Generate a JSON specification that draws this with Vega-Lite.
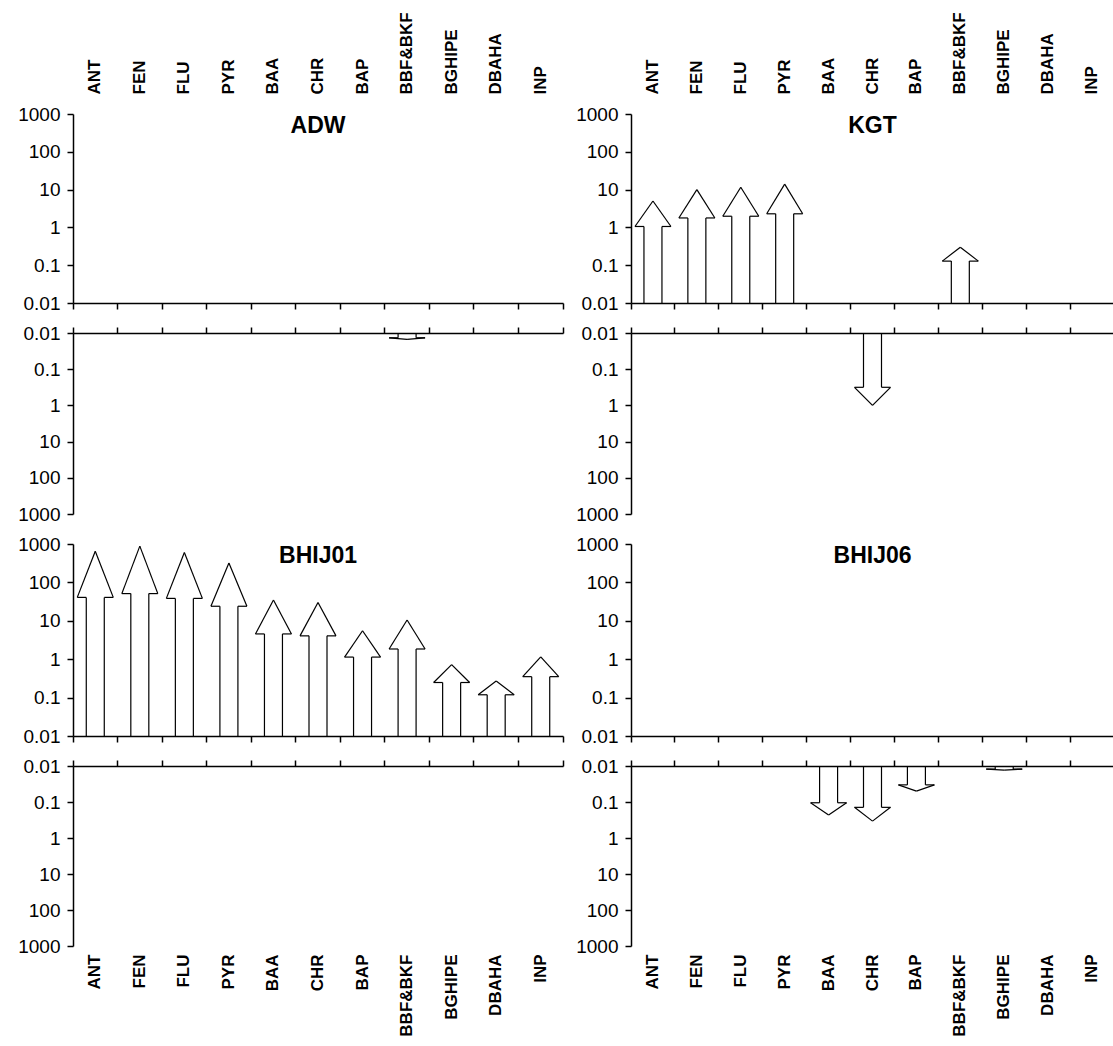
{
  "$schema": "https://vega.github.io/schema/vega-lite/v6.json",
  "description": "Block arrows per PAH compound and site on paired log axes (increase above, decrease below).",
  "background": "white",
  "padding": {"left": 17, "top": 11, "right": 0, "bottom": 0},
  "data": {
    "values": [
      {"site": "ADW", "pah": "BBF&BKF", "side": "down", "value": 0.015},
      {"site": "KGT", "pah": "ANT", "side": "up", "value": 5},
      {"site": "KGT", "pah": "FEN", "side": "up", "value": 10},
      {"site": "KGT", "pah": "FLU", "side": "up", "value": 11.5},
      {"site": "KGT", "pah": "PYR", "side": "up", "value": 14},
      {"site": "KGT", "pah": "BBF&BKF", "side": "up", "value": 0.3},
      {"site": "KGT", "pah": "CHR", "side": "down", "value": 1},
      {"site": "BHIJ01", "pah": "ANT", "side": "up", "value": 650},
      {"site": "BHIJ01", "pah": "FEN", "side": "up", "value": 880},
      {"site": "BHIJ01", "pah": "FLU", "side": "up", "value": 600},
      {"site": "BHIJ01", "pah": "PYR", "side": "up", "value": 320},
      {"site": "BHIJ01", "pah": "BAA", "side": "up", "value": 35},
      {"site": "BHIJ01", "pah": "CHR", "side": "up", "value": 30},
      {"site": "BHIJ01", "pah": "BAP", "side": "up", "value": 5.5},
      {"site": "BHIJ01", "pah": "BBF&BKF", "side": "up", "value": 10.5},
      {"site": "BHIJ01", "pah": "BGHIPE", "side": "up", "value": 0.72},
      {"site": "BHIJ01", "pah": "DBAHA", "side": "up", "value": 0.27},
      {"site": "BHIJ01", "pah": "INP", "side": "up", "value": 1.15},
      {"site": "BHIJ06", "pah": "BAA", "side": "down", "value": 0.23},
      {"site": "BHIJ06", "pah": "CHR", "side": "down", "value": 0.34},
      {"site": "BHIJ06", "pah": "BAP", "side": "down", "value": 0.05},
      {"site": "BHIJ06", "pah": "BGHIPE", "side": "down", "value": 0.013}
    ]
  },
  "columns": 2,
  "spacing": {"row": 30, "column": 68},
  "bounds": "flush",
  "concat": [
    {
      "width": 490, "height": 189,
      "title": {"text": "ADW", "frame": "group", "anchor": "middle", "offset": -126, "fontSize": 23, "fontWeight": "bold"},
      "transform": [
        {"filter": "datum.site === 'ADW' && datum.side === 'up'"},
        {"calculate": "0.316228 * pow(datum.value, 0.75)", "as": "neck"},
        {"calculate": "0.01", "as": "floor"}
      ],
      "encoding": {"x": {"field": "pah", "type": "nominal", "scale": {"type": "band", "domain": ["ANT","FEN","FLU","PYR","BAA","CHR","BAP","BBF&BKF","BGHIPE","DBAHA","INP"], "paddingInner": 0, "paddingOuter": 0}, "axis": null}},
      "resolve": {"axis": {"x": "independent", "y": "independent"}},
      "layer": [
        {"mark": {"type": "rule", "xOffset": -9}, "encoding": {
          "x": {"field": "pah", "type": "nominal", "scale": {"type": "band", "domain": ["ANT","FEN","FLU","PYR","BAA","CHR","BAP","BBF&BKF","BGHIPE","DBAHA","INP"], "paddingInner": 0, "paddingOuter": 0}, "axis": {"orient": "bottom", "labels": false, "title": null, "bandPosition": 1, "tickExtra": true, "tickSize": 6}},
          "y": {"field": "floor", "type": "quantitative", "scale": {"type": "log", "domain": [0.01, 1000], "nice": false}, "axis": {"values": [0.01, 0.1, 1, 10, 100, 1000], "format": "~g", "title": null, "tickSize": 6, "labelPadding": 7, "labelFontSize": 19}},
          "y2": {"field": "neck"}}},
        {"mark": {"type": "rule", "xOffset": 9}, "encoding": {
          "x": {"field": "pah", "type": "nominal", "scale": {"type": "band", "domain": ["ANT","FEN","FLU","PYR","BAA","CHR","BAP","BBF&BKF","BGHIPE","DBAHA","INP"], "paddingInner": 0, "paddingOuter": 0}, "axis": {"orient": "top", "domain": false, "ticks": false, "title": null, "labelAngle": -90, "labelAlign": "left", "labelBaseline": "middle", "labelPadding": 20, "labelFontSize": 17, "labelFontWeight": "bold", "labelOverlap": false}},
          "y": {"field": "floor", "type": "quantitative", "scale": {"type": "log", "domain": [0.01, 1000], "nice": false}, "axis": null},
          "y2": {"field": "neck"}}},
        {"mark": {"type": "rule", "xOffset": -18, "x2Offset": -9}, "encoding": {"x2": {"field": "pah"}, "y": {"field": "neck", "type": "quantitative", "scale": {"type": "log", "domain": [0.01, 1000], "nice": false}, "axis": null}}},
        {"mark": {"type": "rule", "xOffset": 9, "x2Offset": 18}, "encoding": {"x2": {"field": "pah"}, "y": {"field": "neck", "type": "quantitative", "scale": {"type": "log", "domain": [0.01, 1000], "nice": false}, "axis": null}}},
        {"mark": {"type": "rule", "xOffset": -18}, "encoding": {"x2": {"field": "pah"}, "y": {"field": "neck", "type": "quantitative", "scale": {"type": "log", "domain": [0.01, 1000], "nice": false}, "axis": null}, "y2": {"field": "value"}}},
        {"mark": {"type": "rule", "xOffset": 18}, "encoding": {"x2": {"field": "pah"}, "y": {"field": "neck", "type": "quantitative", "scale": {"type": "log", "domain": [0.01, 1000], "nice": false}, "axis": null}, "y2": {"field": "value"}}}
      ]
    },
    {
      "width": 483, "height": 189,
      "title": {"text": "KGT", "frame": "group", "anchor": "middle", "offset": -126, "fontSize": 23, "fontWeight": "bold"},
      "transform": [
        {"filter": "datum.site === 'KGT' && datum.side === 'up'"},
        {"calculate": "0.316228 * pow(datum.value, 0.75)", "as": "neck"},
        {"calculate": "0.01", "as": "floor"}
      ],
      "encoding": {"x": {"field": "pah", "type": "nominal", "scale": {"type": "band", "domain": ["ANT","FEN","FLU","PYR","BAA","CHR","BAP","BBF&BKF","BGHIPE","DBAHA","INP"], "paddingInner": 0, "paddingOuter": 0}, "axis": null}},
      "resolve": {"axis": {"x": "independent", "y": "independent"}},
      "layer": [
        {"mark": {"type": "rule", "xOffset": -9}, "encoding": {
          "x": {"field": "pah", "type": "nominal", "scale": {"type": "band", "domain": ["ANT","FEN","FLU","PYR","BAA","CHR","BAP","BBF&BKF","BGHIPE","DBAHA","INP"], "paddingInner": 0, "paddingOuter": 0}, "axis": {"orient": "bottom", "labels": false, "title": null, "bandPosition": 1, "tickExtra": true, "tickSize": 6}},
          "y": {"field": "floor", "type": "quantitative", "scale": {"type": "log", "domain": [0.01, 1000], "nice": false}, "axis": {"values": [0.01, 0.1, 1, 10, 100, 1000], "format": "~g", "title": null, "tickSize": 6, "labelPadding": 7, "labelFontSize": 19}},
          "y2": {"field": "neck"}}},
        {"mark": {"type": "rule", "xOffset": 9}, "encoding": {
          "x": {"field": "pah", "type": "nominal", "scale": {"type": "band", "domain": ["ANT","FEN","FLU","PYR","BAA","CHR","BAP","BBF&BKF","BGHIPE","DBAHA","INP"], "paddingInner": 0, "paddingOuter": 0}, "axis": {"orient": "top", "domain": false, "ticks": false, "title": null, "labelAngle": -90, "labelAlign": "left", "labelBaseline": "middle", "labelPadding": 20, "labelFontSize": 17, "labelFontWeight": "bold", "labelOverlap": false}},
          "y": {"field": "floor", "type": "quantitative", "scale": {"type": "log", "domain": [0.01, 1000], "nice": false}, "axis": null},
          "y2": {"field": "neck"}}},
        {"mark": {"type": "rule", "xOffset": -18, "x2Offset": -9}, "encoding": {"x2": {"field": "pah"}, "y": {"field": "neck", "type": "quantitative", "scale": {"type": "log", "domain": [0.01, 1000], "nice": false}, "axis": null}}},
        {"mark": {"type": "rule", "xOffset": 9, "x2Offset": 18}, "encoding": {"x2": {"field": "pah"}, "y": {"field": "neck", "type": "quantitative", "scale": {"type": "log", "domain": [0.01, 1000], "nice": false}, "axis": null}}},
        {"mark": {"type": "rule", "xOffset": -18}, "encoding": {"x2": {"field": "pah"}, "y": {"field": "neck", "type": "quantitative", "scale": {"type": "log", "domain": [0.01, 1000], "nice": false}, "axis": null}, "y2": {"field": "value"}}},
        {"mark": {"type": "rule", "xOffset": 18}, "encoding": {"x2": {"field": "pah"}, "y": {"field": "neck", "type": "quantitative", "scale": {"type": "log", "domain": [0.01, 1000], "nice": false}, "axis": null}, "y2": {"field": "value"}}}
      ]
    },
    {
      "width": 490, "height": 181,
      "transform": [
        {"filter": "datum.site === 'ADW' && datum.side === 'down'"},
        {"calculate": "0.316228 * pow(datum.value, 0.75)", "as": "neck"},
        {"calculate": "0.01", "as": "floor"}
      ],
      "encoding": {"x": {"field": "pah", "type": "nominal", "scale": {"type": "band", "domain": ["ANT","FEN","FLU","PYR","BAA","CHR","BAP","BBF&BKF","BGHIPE","DBAHA","INP"], "paddingInner": 0, "paddingOuter": 0}, "axis": null}},
      "resolve": {"axis": {"x": "independent", "y": "independent"}},
      "layer": [
        {"mark": {"type": "rule", "xOffset": -9}, "encoding": {
          "x": {"field": "pah", "type": "nominal", "scale": {"type": "band", "domain": ["ANT","FEN","FLU","PYR","BAA","CHR","BAP","BBF&BKF","BGHIPE","DBAHA","INP"], "paddingInner": 0, "paddingOuter": 0}, "axis": {"orient": "top", "labels": false, "title": null, "bandPosition": 1, "tickExtra": true, "tickSize": 6}},
          "y": {"field": "floor", "type": "quantitative", "scale": {"type": "log", "domain": [0.01, 1000], "nice": false, "reverse": true}, "axis": {"values": [0.01, 0.1, 1, 10, 100, 1000], "format": "~g", "title": null, "tickSize": 6, "labelPadding": 7, "labelFontSize": 19}},
          "y2": {"field": "neck"}}},
        {"mark": {"type": "rule", "xOffset": 9}, "encoding": {"y": {"field": "floor", "type": "quantitative", "scale": {"type": "log", "domain": [0.01, 1000], "nice": false, "reverse": true}, "axis": null}, "y2": {"field": "neck"}}},
        {"mark": {"type": "rule", "xOffset": -18, "x2Offset": -9}, "encoding": {"x2": {"field": "pah"}, "y": {"field": "neck", "type": "quantitative", "scale": {"type": "log", "domain": [0.01, 1000], "nice": false, "reverse": true}, "axis": null}}},
        {"mark": {"type": "rule", "xOffset": 9, "x2Offset": 18}, "encoding": {"x2": {"field": "pah"}, "y": {"field": "neck", "type": "quantitative", "scale": {"type": "log", "domain": [0.01, 1000], "nice": false, "reverse": true}, "axis": null}}},
        {"mark": {"type": "rule", "xOffset": -18}, "encoding": {"x2": {"field": "pah"}, "y": {"field": "neck", "type": "quantitative", "scale": {"type": "log", "domain": [0.01, 1000], "nice": false, "reverse": true}, "axis": null}, "y2": {"field": "value"}}},
        {"mark": {"type": "rule", "xOffset": 18}, "encoding": {"x2": {"field": "pah"}, "y": {"field": "neck", "type": "quantitative", "scale": {"type": "log", "domain": [0.01, 1000], "nice": false, "reverse": true}, "axis": null}, "y2": {"field": "value"}}}
      ]
    },
    {
      "width": 483, "height": 181,
      "transform": [
        {"filter": "datum.site === 'KGT' && datum.side === 'down'"},
        {"calculate": "0.316228 * pow(datum.value, 0.75)", "as": "neck"},
        {"calculate": "0.01", "as": "floor"}
      ],
      "encoding": {"x": {"field": "pah", "type": "nominal", "scale": {"type": "band", "domain": ["ANT","FEN","FLU","PYR","BAA","CHR","BAP","BBF&BKF","BGHIPE","DBAHA","INP"], "paddingInner": 0, "paddingOuter": 0}, "axis": null}},
      "resolve": {"axis": {"x": "independent", "y": "independent"}},
      "layer": [
        {"mark": {"type": "rule", "xOffset": -9}, "encoding": {
          "x": {"field": "pah", "type": "nominal", "scale": {"type": "band", "domain": ["ANT","FEN","FLU","PYR","BAA","CHR","BAP","BBF&BKF","BGHIPE","DBAHA","INP"], "paddingInner": 0, "paddingOuter": 0}, "axis": {"orient": "top", "labels": false, "title": null, "bandPosition": 1, "tickExtra": true, "tickSize": 6}},
          "y": {"field": "floor", "type": "quantitative", "scale": {"type": "log", "domain": [0.01, 1000], "nice": false, "reverse": true}, "axis": {"values": [0.01, 0.1, 1, 10, 100, 1000], "format": "~g", "title": null, "tickSize": 6, "labelPadding": 7, "labelFontSize": 19}},
          "y2": {"field": "neck"}}},
        {"mark": {"type": "rule", "xOffset": 9}, "encoding": {"y": {"field": "floor", "type": "quantitative", "scale": {"type": "log", "domain": [0.01, 1000], "nice": false, "reverse": true}, "axis": null}, "y2": {"field": "neck"}}},
        {"mark": {"type": "rule", "xOffset": -18, "x2Offset": -9}, "encoding": {"x2": {"field": "pah"}, "y": {"field": "neck", "type": "quantitative", "scale": {"type": "log", "domain": [0.01, 1000], "nice": false, "reverse": true}, "axis": null}}},
        {"mark": {"type": "rule", "xOffset": 9, "x2Offset": 18}, "encoding": {"x2": {"field": "pah"}, "y": {"field": "neck", "type": "quantitative", "scale": {"type": "log", "domain": [0.01, 1000], "nice": false, "reverse": true}, "axis": null}}},
        {"mark": {"type": "rule", "xOffset": -18}, "encoding": {"x2": {"field": "pah"}, "y": {"field": "neck", "type": "quantitative", "scale": {"type": "log", "domain": [0.01, 1000], "nice": false, "reverse": true}, "axis": null}, "y2": {"field": "value"}}},
        {"mark": {"type": "rule", "xOffset": 18}, "encoding": {"x2": {"field": "pah"}, "y": {"field": "neck", "type": "quantitative", "scale": {"type": "log", "domain": [0.01, 1000], "nice": false, "reverse": true}, "axis": null}, "y2": {"field": "value"}}}
      ]
    },
    {
      "width": 490, "height": 192,
      "title": {"text": "BHIJ01", "frame": "group", "anchor": "middle", "offset": -33, "fontSize": 23, "fontWeight": "bold"},
      "transform": [
        {"filter": "datum.site === 'BHIJ01' && datum.side === 'up'"},
        {"calculate": "0.316228 * pow(datum.value, 0.75)", "as": "neck"},
        {"calculate": "0.01", "as": "floor"}
      ],
      "encoding": {"x": {"field": "pah", "type": "nominal", "scale": {"type": "band", "domain": ["ANT","FEN","FLU","PYR","BAA","CHR","BAP","BBF&BKF","BGHIPE","DBAHA","INP"], "paddingInner": 0, "paddingOuter": 0}, "axis": null}},
      "resolve": {"axis": {"x": "independent", "y": "independent"}},
      "layer": [
        {"mark": {"type": "rule", "xOffset": -9}, "encoding": {
          "x": {"field": "pah", "type": "nominal", "scale": {"type": "band", "domain": ["ANT","FEN","FLU","PYR","BAA","CHR","BAP","BBF&BKF","BGHIPE","DBAHA","INP"], "paddingInner": 0, "paddingOuter": 0}, "axis": {"orient": "bottom", "labels": false, "title": null, "bandPosition": 1, "tickExtra": true, "tickSize": 6}},
          "y": {"field": "floor", "type": "quantitative", "scale": {"type": "log", "domain": [0.01, 1000], "nice": false}, "axis": {"values": [0.01, 0.1, 1, 10, 100, 1000], "format": "~g", "title": null, "tickSize": 6, "labelPadding": 7, "labelFontSize": 19}},
          "y2": {"field": "neck"}}},
        {"mark": {"type": "rule", "xOffset": 9}, "encoding": {"y": {"field": "floor", "type": "quantitative", "scale": {"type": "log", "domain": [0.01, 1000], "nice": false}, "axis": null}, "y2": {"field": "neck"}}},
        {"mark": {"type": "rule", "xOffset": -18, "x2Offset": -9}, "encoding": {"x2": {"field": "pah"}, "y": {"field": "neck", "type": "quantitative", "scale": {"type": "log", "domain": [0.01, 1000], "nice": false}, "axis": null}}},
        {"mark": {"type": "rule", "xOffset": 9, "x2Offset": 18}, "encoding": {"x2": {"field": "pah"}, "y": {"field": "neck", "type": "quantitative", "scale": {"type": "log", "domain": [0.01, 1000], "nice": false}, "axis": null}}},
        {"mark": {"type": "rule", "xOffset": -18}, "encoding": {"x2": {"field": "pah"}, "y": {"field": "neck", "type": "quantitative", "scale": {"type": "log", "domain": [0.01, 1000], "nice": false}, "axis": null}, "y2": {"field": "value"}}},
        {"mark": {"type": "rule", "xOffset": 18}, "encoding": {"x2": {"field": "pah"}, "y": {"field": "neck", "type": "quantitative", "scale": {"type": "log", "domain": [0.01, 1000], "nice": false}, "axis": null}, "y2": {"field": "value"}}}
      ]
    },
    {
      "width": 483, "height": 192,
      "title": {"text": "BHIJ06", "frame": "group", "anchor": "middle", "offset": -33, "fontSize": 23, "fontWeight": "bold"},
      "transform": [
        {"filter": "datum.site === 'BHIJ06' && datum.side === 'up'"},
        {"calculate": "0.316228 * pow(datum.value, 0.75)", "as": "neck"},
        {"calculate": "0.01", "as": "floor"}
      ],
      "encoding": {"x": {"field": "pah", "type": "nominal", "scale": {"type": "band", "domain": ["ANT","FEN","FLU","PYR","BAA","CHR","BAP","BBF&BKF","BGHIPE","DBAHA","INP"], "paddingInner": 0, "paddingOuter": 0}, "axis": null}},
      "resolve": {"axis": {"x": "independent", "y": "independent"}},
      "layer": [
        {"mark": {"type": "rule", "xOffset": -9}, "encoding": {
          "x": {"field": "pah", "type": "nominal", "scale": {"type": "band", "domain": ["ANT","FEN","FLU","PYR","BAA","CHR","BAP","BBF&BKF","BGHIPE","DBAHA","INP"], "paddingInner": 0, "paddingOuter": 0}, "axis": {"orient": "bottom", "labels": false, "title": null, "bandPosition": 1, "tickExtra": true, "tickSize": 6}},
          "y": {"field": "floor", "type": "quantitative", "scale": {"type": "log", "domain": [0.01, 1000], "nice": false}, "axis": {"values": [0.01, 0.1, 1, 10, 100, 1000], "format": "~g", "title": null, "tickSize": 6, "labelPadding": 7, "labelFontSize": 19}},
          "y2": {"field": "neck"}}},
        {"mark": {"type": "rule", "xOffset": 9}, "encoding": {"y": {"field": "floor", "type": "quantitative", "scale": {"type": "log", "domain": [0.01, 1000], "nice": false}, "axis": null}, "y2": {"field": "neck"}}},
        {"mark": {"type": "rule", "xOffset": -18, "x2Offset": -9}, "encoding": {"x2": {"field": "pah"}, "y": {"field": "neck", "type": "quantitative", "scale": {"type": "log", "domain": [0.01, 1000], "nice": false}, "axis": null}}},
        {"mark": {"type": "rule", "xOffset": 9, "x2Offset": 18}, "encoding": {"x2": {"field": "pah"}, "y": {"field": "neck", "type": "quantitative", "scale": {"type": "log", "domain": [0.01, 1000], "nice": false}, "axis": null}}},
        {"mark": {"type": "rule", "xOffset": -18}, "encoding": {"x2": {"field": "pah"}, "y": {"field": "neck", "type": "quantitative", "scale": {"type": "log", "domain": [0.01, 1000], "nice": false}, "axis": null}, "y2": {"field": "value"}}},
        {"mark": {"type": "rule", "xOffset": 18}, "encoding": {"x2": {"field": "pah"}, "y": {"field": "neck", "type": "quantitative", "scale": {"type": "log", "domain": [0.01, 1000], "nice": false}, "axis": null}, "y2": {"field": "value"}}}
      ]
    },
    {
      "width": 490, "height": 180,
      "transform": [
        {"filter": "datum.site === 'BHIJ01' && datum.side === 'down'"},
        {"calculate": "0.316228 * pow(datum.value, 0.75)", "as": "neck"},
        {"calculate": "0.01", "as": "floor"}
      ],
      "encoding": {"x": {"field": "pah", "type": "nominal", "scale": {"type": "band", "domain": ["ANT","FEN","FLU","PYR","BAA","CHR","BAP","BBF&BKF","BGHIPE","DBAHA","INP"], "paddingInner": 0, "paddingOuter": 0}, "axis": null}},
      "resolve": {"axis": {"x": "independent", "y": "independent"}},
      "layer": [
        {"mark": {"type": "rule", "xOffset": -9}, "encoding": {
          "x": {"field": "pah", "type": "nominal", "scale": {"type": "band", "domain": ["ANT","FEN","FLU","PYR","BAA","CHR","BAP","BBF&BKF","BGHIPE","DBAHA","INP"], "paddingInner": 0, "paddingOuter": 0}, "axis": {"orient": "top", "labels": false, "title": null, "bandPosition": 1, "tickExtra": true, "tickSize": 6}},
          "y": {"field": "floor", "type": "quantitative", "scale": {"type": "log", "domain": [0.01, 1000], "nice": false, "reverse": true}, "axis": {"values": [0.01, 0.1, 1, 10, 100, 1000], "format": "~g", "title": null, "tickSize": 6, "labelPadding": 7, "labelFontSize": 19}},
          "y2": {"field": "neck"}}},
        {"mark": {"type": "rule", "xOffset": 9}, "encoding": {
          "x": {"field": "pah", "type": "nominal", "scale": {"type": "band", "domain": ["ANT","FEN","FLU","PYR","BAA","CHR","BAP","BBF&BKF","BGHIPE","DBAHA","INP"], "paddingInner": 0, "paddingOuter": 0}, "axis": {"orient": "bottom", "domain": false, "ticks": false, "title": null, "labelAngle": -90, "labelAlign": "right", "labelBaseline": "middle", "labelPadding": 8, "labelFontSize": 17, "labelFontWeight": "bold", "labelOverlap": false}},
          "y": {"field": "floor", "type": "quantitative", "scale": {"type": "log", "domain": [0.01, 1000], "nice": false, "reverse": true}, "axis": null},
          "y2": {"field": "neck"}}},
        {"mark": {"type": "rule", "xOffset": -18, "x2Offset": -9}, "encoding": {"x2": {"field": "pah"}, "y": {"field": "neck", "type": "quantitative", "scale": {"type": "log", "domain": [0.01, 1000], "nice": false, "reverse": true}, "axis": null}}},
        {"mark": {"type": "rule", "xOffset": 9, "x2Offset": 18}, "encoding": {"x2": {"field": "pah"}, "y": {"field": "neck", "type": "quantitative", "scale": {"type": "log", "domain": [0.01, 1000], "nice": false, "reverse": true}, "axis": null}}},
        {"mark": {"type": "rule", "xOffset": -18}, "encoding": {"x2": {"field": "pah"}, "y": {"field": "neck", "type": "quantitative", "scale": {"type": "log", "domain": [0.01, 1000], "nice": false, "reverse": true}, "axis": null}, "y2": {"field": "value"}}},
        {"mark": {"type": "rule", "xOffset": 18}, "encoding": {"x2": {"field": "pah"}, "y": {"field": "neck", "type": "quantitative", "scale": {"type": "log", "domain": [0.01, 1000], "nice": false, "reverse": true}, "axis": null}, "y2": {"field": "value"}}}
      ]
    },
    {
      "width": 483, "height": 180,
      "transform": [
        {"filter": "datum.site === 'BHIJ06' && datum.side === 'down'"},
        {"calculate": "0.316228 * pow(datum.value, 0.75)", "as": "neck"},
        {"calculate": "0.01", "as": "floor"}
      ],
      "encoding": {"x": {"field": "pah", "type": "nominal", "scale": {"type": "band", "domain": ["ANT","FEN","FLU","PYR","BAA","CHR","BAP","BBF&BKF","BGHIPE","DBAHA","INP"], "paddingInner": 0, "paddingOuter": 0}, "axis": null}},
      "resolve": {"axis": {"x": "independent", "y": "independent"}},
      "layer": [
        {"mark": {"type": "rule", "xOffset": -9}, "encoding": {
          "x": {"field": "pah", "type": "nominal", "scale": {"type": "band", "domain": ["ANT","FEN","FLU","PYR","BAA","CHR","BAP","BBF&BKF","BGHIPE","DBAHA","INP"], "paddingInner": 0, "paddingOuter": 0}, "axis": {"orient": "top", "labels": false, "title": null, "bandPosition": 1, "tickExtra": true, "tickSize": 6}},
          "y": {"field": "floor", "type": "quantitative", "scale": {"type": "log", "domain": [0.01, 1000], "nice": false, "reverse": true}, "axis": {"values": [0.01, 0.1, 1, 10, 100, 1000], "format": "~g", "title": null, "tickSize": 6, "labelPadding": 7, "labelFontSize": 19}},
          "y2": {"field": "neck"}}},
        {"mark": {"type": "rule", "xOffset": 9}, "encoding": {
          "x": {"field": "pah", "type": "nominal", "scale": {"type": "band", "domain": ["ANT","FEN","FLU","PYR","BAA","CHR","BAP","BBF&BKF","BGHIPE","DBAHA","INP"], "paddingInner": 0, "paddingOuter": 0}, "axis": {"orient": "bottom", "domain": false, "ticks": false, "title": null, "labelAngle": -90, "labelAlign": "right", "labelBaseline": "middle", "labelPadding": 8, "labelFontSize": 17, "labelFontWeight": "bold", "labelOverlap": false}},
          "y": {"field": "floor", "type": "quantitative", "scale": {"type": "log", "domain": [0.01, 1000], "nice": false, "reverse": true}, "axis": null},
          "y2": {"field": "neck"}}},
        {"mark": {"type": "rule", "xOffset": -18, "x2Offset": -9}, "encoding": {"x2": {"field": "pah"}, "y": {"field": "neck", "type": "quantitative", "scale": {"type": "log", "domain": [0.01, 1000], "nice": false, "reverse": true}, "axis": null}}},
        {"mark": {"type": "rule", "xOffset": 9, "x2Offset": 18}, "encoding": {"x2": {"field": "pah"}, "y": {"field": "neck", "type": "quantitative", "scale": {"type": "log", "domain": [0.01, 1000], "nice": false, "reverse": true}, "axis": null}}},
        {"mark": {"type": "rule", "xOffset": -18}, "encoding": {"x2": {"field": "pah"}, "y": {"field": "neck", "type": "quantitative", "scale": {"type": "log", "domain": [0.01, 1000], "nice": false, "reverse": true}, "axis": null}, "y2": {"field": "value"}}},
        {"mark": {"type": "rule", "xOffset": 18}, "encoding": {"x2": {"field": "pah"}, "y": {"field": "neck", "type": "quantitative", "scale": {"type": "log", "domain": [0.01, 1000], "nice": false, "reverse": true}, "axis": null}, "y2": {"field": "value"}}}
      ]
    }
  ],
  "config": {
    "font": "Liberation Sans",
    "view": {"stroke": null},
    "axis": {"domainColor": "#000", "tickColor": "#000", "labelColor": "#000", "domainWidth": 1.5, "tickWidth": 1.5, "grid": false, "labelFont": "Liberation Sans"},
    "rule": {"color": "#000", "strokeWidth": 1.2},
    "title": {"color": "#000", "font": "Liberation Sans"}
  }
}
